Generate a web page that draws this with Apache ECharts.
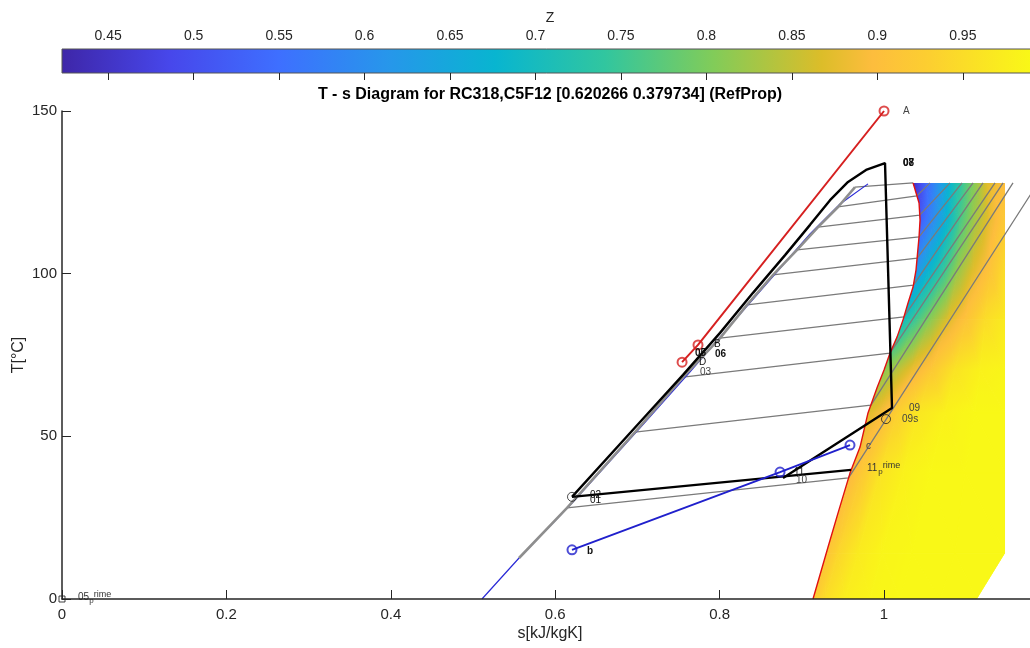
<!DOCTYPE html>
<html><head><meta charset="utf-8">
<script src="https://cdn.jsdelivr.net/npm/echarts@6/dist/echarts.min.js"></script>
<style>html,body{margin:0;padding:0;background:#fff}#c{width:1030px;height:648px}</style>
</head><body><div id="c"></div>
<script>
// ---------------- DATA ----------------
const xTickStep = 0.2, xMax = 1.1873, yMax = 150, yTickStep = 50;
const colorbarTicks = [0.45, 0.5, 0.55, 0.6, 0.65, 0.7, 0.75, 0.8, 0.85, 0.9, 0.95];
const zRange = [0.423, 0.994];

// saturated vapour line (red), top to bottom  [s, T]
const vaporLine = [[1.0353,127.9],[1.0426,121.7],[1.0438,116.5],[1.0426,111.3],[1.0389,101.1],[1.0353,95.9],
  [1.0292,91.0],[1.0231,85.8],[1.0158,80.5],[1.0073,75.6],[1.0000,70.4],[0.9915,64.9],[0.9805,57.2],
  [0.9708,46.7],[0.9586,38.7],[0.9440,26.4],[0.9319,16.0],[0.9136,0]];
// right-hand outline of the computed superheated field (bottom to top)
const fieldRightEdge = [[1.1131,0],[1.1472,14.1],[1.1472,127.9]];

// saturated liquid line (grey) and bubble line (blue thin)
const liquidGray = [[0.5560,12.6],[0.6144,28.0],[0.6971,51.3],[0.7555,68.2],[0.8005,80.2],[0.8333,90.4],
  [0.8650,99.6],[0.8942,107.3],[0.9197,114.3],[0.9440,120.5],[0.9647,126.6]];
const liquidBlue = [[0.5109,0],[0.5560,12.6],[0.6204,29.5],[0.7032,52.6],[0.7640,69.8],[0.8187,85.8],
  [0.8674,99.9],[0.9100,112.2],[0.9465,121.4],[0.9805,127.6]];

// isobars: [liquid end, vapour end, end at T max]
const isobars = [
  [[0.9647,126.6],[1.0353,127.9]],
  [[0.9440,120.5],[1.0400,123.9],[1.0560,127.9]],
  [[0.9197,114.3],[1.0434,118.0],[1.0803,127.9]],
  [[0.8942,107.3],[1.0426,111.3],[1.0949,127.9]],
  [[0.8650,99.6],[1.0403,104.8],[1.1083,127.9]],
  [[0.8333,90.4],[1.0358,96.5],[1.1204,127.9]],
  [[0.8005,80.2],[1.0242,86.7],[1.1350,127.9]],
  [[0.7555,68.2],[1.0073,75.6],[1.1448,127.9]],
  [[0.6971,51.3],[0.9841,59.6],[1.1569,127.9]],
  [[0.6144,28.0],[0.9568,37.2],[1.1873,127.9]]
];

// cycle (black)
const cycleBlack = [[0.6204,31.4],[0.7032,54.4],[0.7555,68.9],[0.8005,81.8],[0.8406,94.1],[0.8796,105.7],
  [0.9100,115.0],[0.9343,122.6],[0.9562,128.2],[0.9781,131.9],[1.0012,134.0],[1.0097,58.7],[0.8771,37.2]];
const evapBlack = [[0.6204,31.4],[0.9599,39.7]];
const blackCircles = [[0.6204,31.4],[1.0024,55.3]];
const originSquare = [[0,0]];
// heat source (red) and sink (blue)
const redLine = [[1.0000,150.0],[0.7737,78.1],[0.7543,72.8]];
const blueLine = [[0.6204,15.1],[0.8735,39.0],[0.9586,47.3]];

// point labels
const labelText = ['A','08','07','B','05','06','D','03','09','09s','c','11_prime','11','10','02','01','b','05_prime'];
const labelS = [1.0231,1.0231,1.0231,0.7932,0.7701,0.7944,0.7749,0.7762,1.0304,1.0219,0.9781,0.9793,0.8905,0.8929,0.6423,0.6423,0.6387,0.0195];
const labelT = [150.0,134.0,134.0,78.4,75.6,75.3,72.8,69.8,58.7,55.3,47.0,40.3,39.0,36.6,32.0,30.4,14.8,0.6];

// compressibility factor Z on a mesh (rows of constant T; first node on vapour line)
const zMeshT = [127.9, 116.5, 101.1, 85.8, 70.4, 57.2, 38.7, 14.1, 0];
const zMeshS = [
  [1.0353,1.0499,1.0681,1.0864,1.1046,1.1253,1.1472],
  [1.0438,1.0584,1.0754,1.0925,1.1107,1.1290,1.1472],
  [1.0389,1.0535,1.0718,1.0900,1.1083,1.1290,1.1472],
  [1.0231,1.0377,1.0560,1.0779,1.0998,1.1229,1.1472],
  [1.0000,1.0146,1.0341,1.0584,1.0864,1.1168,1.1472],
  [0.9805,0.9951,1.0158,1.0414,1.0742,1.1107,1.1472],
  [0.9586,0.9732,0.9951,1.0231,1.0560,1.0985,1.1472],
  [0.9294,0.9440,0.9684,0.9976,1.0341,1.0864,1.1472],
  [0.9136,0.9282,0.9526,0.9830,1.0195,1.0681,1.1131]
];
const zMeshZ = [
  [0.44,0.53,0.62,0.71,0.79,0.87,0.90],
  [0.52,0.59,0.67,0.76,0.83,0.88,0.92],
  [0.61,0.67,0.74,0.82,0.87,0.91,0.95],
  [0.70,0.75,0.81,0.87,0.91,0.95,0.97],
  [0.81,0.84,0.88,0.92,0.96,0.98,0.985],
  [0.87,0.89,0.93,0.965,0.98,0.99,0.99],
  [0.89,0.92,0.96,0.98,0.99,0.99,0.99],
  [0.91,0.94,0.97,0.985,0.99,0.99,0.99],
  [0.92,0.95,0.975,0.985,0.99,0.99,0.99]
];

// ---------------- STYLE ----------------
const FONT = 'Liberation Sans, Arial, Helvetica, sans-serif';
const AX = '#262626';
const PARULA = [[0,'#3e26a8'],[0.111,'#4747eb'],[0.222,'#3e6fff'],[0.333,'#2796eb'],[0.444,'#08b5d0'],
  [0.556,'#31c69f'],[0.667,'#81cc59'],[0.778,'#dcbd29'],[0.83,'#fdbd3d'],[0.889,'#fccf30'],[1,'#f9fb15']];
const labelStyle = ['g','kb','kb','k','kb','kb','k','g','g','g','g','p','k','g','k','k','kb','p'];
const LABEL_STYLE = {
  k: {c:'#111', f:'10px ' + FONT},
  kb:{c:'#111', f:'bold 10px ' + FONT},
  g: {c:'#444', f:'10px ' + FONT},
  p: {c:'#333', f:'10px ' + FONT}
};

function hex2rgb(h){return [parseInt(h.slice(1,3),16),parseInt(h.slice(3,5),16),parseInt(h.slice(5,7),16)];}
const PAR_RGB = PARULA.map(p=>[p[0],hex2rgb(p[1])]);
function zColor(z){
  let f=(z-zRange[0])/(zRange[1]-zRange[0]); f=Math.max(0,Math.min(1,f));
  for(let i=0;i<PAR_RGB.length-1;i++){
    const a=PAR_RGB[i], b=PAR_RGB[i+1];
    if(f<=b[0]){const t=(f-a[0])/(b[0]-a[0]);
      return 'rgb('+[0,1,2].map(k=>Math.round(a[1][k]+(b[1][k]-a[1][k])*t)).join(',')+')';}
  }
  const l=PAR_RGB[PAR_RGB.length-1][1]; return 'rgb('+l.join(',')+')';
}

function triEl(P, Z){
  const [p0,p1,p2]=P, [z0,z1,z2]=Z;
  const d1x=p1[0]-p0[0], d1y=p1[1]-p0[1], d2x=p2[0]-p0[0], d2y=p2[1]-p0[1];
  const det=d1x*d2y-d1y*d2x, dz1=z1-z0, dz2=z2-z0;
  const zmin=Math.min(z0,z1,z2), zmax=Math.max(z0,z1,z2);
  let fill;
  if(Math.abs(det)<1e-6 || zmax-zmin<1e-6){ fill=zColor((z0+z1+z2)/3); }
  else {
    const a=(dz1*d2y-d1y*dz2)/det, b=(d1x*dz2-dz1*d2x)/det, g2=a*a+b*b;
    const sx=p0[0]+a*(zmin-z0)/g2, sy=p0[1]+b*(zmin-z0)/g2;
    const ex=p0[0]+a*(zmax-z0)/g2, ey=p0[1]+b*(zmax-z0)/g2;
    const stops=[]; const n=8;
    for(let k=0;k<=n;k++) stops.push({offset:k/n, color:zColor(zmin+(zmax-zmin)*k/n)});
    fill=new echarts.graphic.LinearGradient(sx,sy,ex,ey,stops,true);
  }
  return {type:'polygon', shape:{points:P}, style:{fill:fill, stroke:fill, lineWidth:1}};
}

function renderMesh(params, api){
  const children=[];
  const node=(i,j)=>api.coord([zMeshS[i][j], zMeshT[i]]);
  for(let i=0;i<zMeshT.length-1;i++){
    for(let j=0;j<zMeshS[i].length-1;j++){
      const a=node(i,j), b=node(i,j+1), c=node(i+1,j+1), d=node(i+1,j);
      const za=zMeshZ[i][j], zb=zMeshZ[i][j+1], zc=zMeshZ[i+1][j+1], zd=zMeshZ[i+1][j];
      children.push(triEl([a,b,c],[za,zb,zc]));
      children.push(triEl([a,c,d],[za,zc,zd]));
    }
  }
  const clipPts = vaporLine.concat(fieldRightEdge).map(p=>api.coord(p));
  return {type:'group', children:children, clipPath:{type:'polygon', shape:{points:clipPts}}};
}

function renderColorbar(params, api){
  const p0=api.coord([zRange[0],1]), p1=api.coord([zRange[1],0]);
  const stops=PARULA.map(p=>({offset:p[0], color:p[1]}));
  return {type:'rect', shape:{x:p0[0], y:p0[1], width:p1[0]-p0[0], height:p1[1]-p0[1]},
    style:{fill:new echarts.graphic.LinearGradient(0,0,1,0,stops), stroke:'#555', lineWidth:1}};
}

function renderLabel(params, api){
  const i=params.dataIndex;
  const p=api.coord([labelS[i], labelT[i]]);
  const st=LABEL_STYLE[labelStyle[i]];
  const parts=labelText[i].split('_');
  if(parts.length===1){
    return {type:'text', x:p[0], y:p[1], style:{text:parts[0], fill:st.c, font:st.f, align:'left', verticalAlign:'middle'}};
  }
  const w0 = parts[0].length*5.6;
  return {type:'group', children:[
    {type:'text', x:p[0], y:p[1], style:{text:parts[0], fill:st.c, font:st.f, align:'left', verticalAlign:'middle'}},
    {type:'text', x:p[0]+w0, y:p[1]+3.5, style:{text:parts[1].charAt(0), fill:st.c, font:'8px '+FONT, align:'left', verticalAlign:'middle'}},
    {type:'text', x:p[0]+w0+4.5, y:p[1]-2.5, style:{text:parts[1].slice(1), fill:st.c, font:'9px '+FONT, align:'left', verticalAlign:'middle'}}
  ]};
}

const lineS = (data, color, width, z) => ({type:'line', data:data, showSymbol:false, symbol:'none', z:z,
  lineStyle:{color:color, width:width}, silent:true, animation:false});
const markS = (data, color, size, bw, sym, z) => ({type:'scatter', data:data, symbol:sym||'circle', symbolSize:size, z:z,
  itemStyle:{color:'rgba(0,0,0,0)', borderColor:color, borderWidth:bw}, silent:true, animation:false});

const series = [
  {type:'custom', renderItem:renderMesh, data:[[1.0,60]], z:1, silent:true, animation:false}
];
isobars.forEach(ib=>series.push(lineS(ib,'#7a7a7a',1.3,2)));
series.push(lineS(liquidBlue,'#2a2ad6',1.2,3));
series.push(lineS(liquidGray,'#8e8e8e',2.6,3));
series.push(lineS(vaporLine,'#e01010',1.4,4));
series.push(lineS(cycleBlack,'#000',2.4,5));
series.push(lineS(evapBlack,'#000',2.4,5));
series.push(lineS(redLine,'#d62020',2,6));
series.push(lineS(blueLine,'#2020cc',2,6));
series.push(markS(redLine,'#d62020',9,2,'circle',7));
series.push(markS(blueLine,'#2020cc',9,2,'circle',7));
series.push(markS(blackCircles,'#222',9,1,'circle',7));
series.push(markS(originSquare,'#111',6,1,'rect',7));
series.push({type:'custom', renderItem:renderLabel, data:labelS.map((s,i)=>[s,labelT[i]]), z:8, silent:true, animation:false});
series.push({type:'custom', renderItem:renderColorbar, data:[[zRange[0],0]], xAxisIndex:1, yAxisIndex:1, z:1, silent:true, animation:false});

const chart = echarts.init(document.getElementById('c'), null, {renderer:'canvas'});
chart.setOption({
  animation:false,
  backgroundColor:'#fff',
  textStyle:{fontFamily:FONT},
  grid:[
    {left:62, right:-8, top:111, bottom:49, containLabel:false, outerBoundsMode:'none'},
    {left:62, right:-8, top:49, height:24, containLabel:false, outerBoundsMode:'none'}
  ],
  graphic:[{type:'text', x:550, y:95, style:{text:'T - s Diagram for RC318,C5F12 [0.620266 0.379734] (RefProp)',
    font:'bold 16px '+FONT, fill:'#000', align:'center', verticalAlign:'middle'}, z:20}],
  xAxis:[
    {type:'value', gridIndex:0, min:0, max:xMax, interval:xTickStep, z:10,
      axisLine:{show:true, onZero:false, lineStyle:{color:AX, width:1.5}},
      axisTick:{show:true, inside:true, length:9, lineStyle:{color:AX, width:1}},
      axisLabel:{fontSize:15, color:AX, margin:8, showMaxLabel:false, fontFamily:FONT},
      splitLine:{show:false}, nameMoveOverlap:false,
      name:'s[kJ/kgK]', nameLocation:'middle', nameGap:27, nameTextStyle:{fontSize:16, color:AX, fontFamily:FONT}},
    {type:'value', gridIndex:1, min:zRange[0], max:zRange[1], position:'top', z:10,
      axisLine:{show:false},
      axisTick:{show:true, inside:true, length:7, customValues:colorbarTicks, lineStyle:{color:AX, width:1}},
      axisLabel:{show:true, customValues:colorbarTicks, fontSize:14, color:AX, margin:6, fontFamily:FONT},
      splitLine:{show:false},
      name:'Z', nameLocation:'middle', nameGap:24, nameTextStyle:{fontSize:14, color:AX, fontFamily:FONT}}
  ],
  yAxis:[
    {type:'value', gridIndex:0, min:0, max:yMax, interval:yTickStep, z:10,
      axisLine:{show:true, onZero:false, lineStyle:{color:AX, width:1.5}},
      axisTick:{show:true, inside:true, length:9, lineStyle:{color:AX, width:1}},
      axisLabel:{fontSize:15, color:AX, margin:5, fontFamily:FONT},
      splitLine:{show:false}, nameMoveOverlap:false,
      name:'T[°C]', nameLocation:'middle', nameGap:35, nameTextStyle:{fontSize:16, color:AX, fontFamily:FONT}},
    {type:'value', gridIndex:1, min:0, max:1, show:false}
  ],
  series:series
});
</script>
</body></html>
